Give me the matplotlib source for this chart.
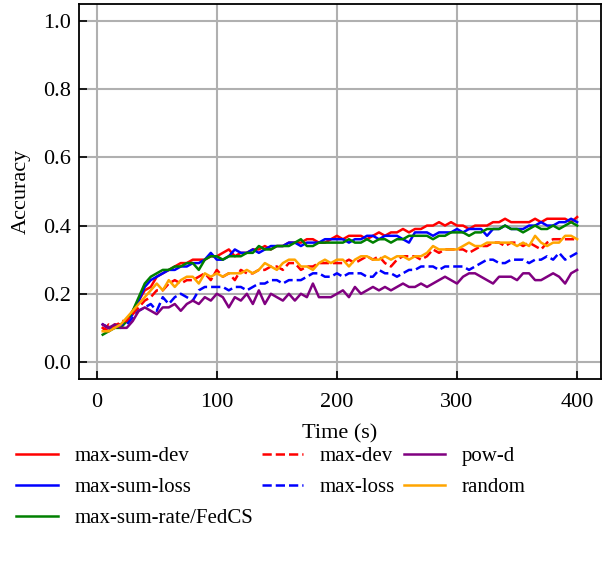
import matplotlib
matplotlib.use("Agg")
import matplotlib.pyplot as plt
import numpy as np

plt.rcParams['font.family'] = ['Liberation Serif', 'DejaVu Serif']
plt.rcParams['font.size'] = 16

# time axis, one point every 5 s
time_s = np.arange(5, 405, 5)

max_sum_dev = [
    0.10, 0.09, 0.11, 0.11, 0.12, 0.15, 0.18, 0.21, 0.22, 0.25,
    0.26, 0.27, 0.28, 0.29, 0.29, 0.30, 0.30, 0.30, 0.31, 0.31,
    0.32, 0.33, 0.31, 0.32, 0.32, 0.33, 0.33, 0.34, 0.33, 0.34,
    0.34, 0.35, 0.35, 0.35, 0.36, 0.36, 0.35, 0.35, 0.36, 0.37,
    0.36, 0.37, 0.37, 0.37, 0.36, 0.37, 0.38, 0.37, 0.38, 0.38,
    0.39, 0.38, 0.39, 0.39, 0.40, 0.40, 0.41, 0.40, 0.41, 0.40,
    0.40, 0.39, 0.40, 0.40, 0.40, 0.41, 0.41, 0.42, 0.41, 0.41,
    0.41, 0.41, 0.42, 0.41, 0.42, 0.42, 0.42, 0.42, 0.41, 0.425,
]
max_sum_loss = [
    0.11, 0.10, 0.10, 0.11, 0.12, 0.14, 0.18, 0.22, 0.24, 0.25,
    0.26, 0.27, 0.27, 0.28, 0.28, 0.29, 0.29, 0.30, 0.32, 0.30,
    0.30, 0.31, 0.33, 0.32, 0.32, 0.33, 0.32, 0.33, 0.34, 0.34,
    0.34, 0.35, 0.35, 0.34, 0.35, 0.35, 0.35, 0.36, 0.36, 0.36,
    0.36, 0.35, 0.36, 0.36, 0.37, 0.37, 0.36, 0.37, 0.37, 0.37,
    0.36, 0.35, 0.38, 0.38, 0.38, 0.37, 0.38, 0.38, 0.38, 0.39,
    0.38, 0.39, 0.39, 0.39, 0.37, 0.39, 0.39, 0.40, 0.39, 0.39,
    0.39, 0.40, 0.40, 0.41, 0.40, 0.40, 0.41, 0.41, 0.42, 0.41,
]
max_sum_rate = [
    0.08, 0.09, 0.10, 0.10, 0.12, 0.15, 0.19, 0.23, 0.25, 0.26,
    0.27, 0.27, 0.28, 0.28, 0.29, 0.29, 0.27, 0.30, 0.31, 0.31,
    0.30, 0.31, 0.31, 0.31, 0.32, 0.32, 0.34, 0.33, 0.33, 0.34,
    0.34, 0.34, 0.35, 0.36, 0.34, 0.34, 0.35, 0.35, 0.35, 0.35,
    0.35, 0.36, 0.35, 0.35, 0.36, 0.35, 0.36, 0.36, 0.35, 0.36,
    0.36, 0.37, 0.37, 0.37, 0.37, 0.36, 0.37, 0.37, 0.38, 0.38,
    0.38, 0.37, 0.38, 0.38, 0.39, 0.39, 0.39, 0.40, 0.39, 0.39,
    0.38, 0.39, 0.40, 0.39, 0.39, 0.40, 0.39, 0.40, 0.41, 0.40,
]
max_dev = [
    0.09, 0.11, 0.10, 0.12, 0.12, 0.14, 0.16, 0.18, 0.19, 0.21,
    0.21, 0.23, 0.24, 0.23, 0.24, 0.24, 0.25, 0.26, 0.24, 0.27,
    0.25, 0.26, 0.24, 0.27, 0.26, 0.26, 0.27, 0.27, 0.28, 0.28,
    0.27, 0.29, 0.29, 0.27, 0.28, 0.28, 0.29, 0.29, 0.29, 0.29,
    0.29, 0.30, 0.29, 0.30, 0.31, 0.30, 0.31, 0.29, 0.28, 0.30,
    0.31, 0.31, 0.31, 0.30, 0.31, 0.33, 0.32, 0.33, 0.33, 0.33,
    0.33, 0.32, 0.33, 0.34, 0.34, 0.35, 0.35, 0.34, 0.35, 0.35,
    0.34, 0.35, 0.34, 0.33, 0.35, 0.36, 0.36, 0.36, 0.36, 0.36,
]
max_loss = [
    0.11, 0.10, 0.10, 0.11, 0.11, 0.13, 0.15, 0.16, 0.17, 0.15,
    0.19, 0.17, 0.19, 0.20, 0.19, 0.18, 0.21, 0.22, 0.22, 0.22,
    0.22, 0.21, 0.22, 0.22, 0.21, 0.22, 0.23, 0.23, 0.24, 0.24,
    0.23, 0.24, 0.24, 0.24, 0.25, 0.26, 0.26, 0.25, 0.25, 0.26,
    0.25, 0.26, 0.26, 0.26, 0.25, 0.25, 0.27, 0.26, 0.26, 0.25,
    0.26, 0.27, 0.27, 0.28, 0.28, 0.28, 0.27, 0.28, 0.28, 0.28,
    0.28, 0.27, 0.28, 0.29, 0.30, 0.30, 0.29, 0.29, 0.30, 0.30,
    0.30, 0.29, 0.30, 0.30, 0.31, 0.30, 0.32, 0.30, 0.31, 0.32,
]
pow_d = [
    0.11, 0.10, 0.11, 0.10, 0.10, 0.12, 0.15, 0.16, 0.15, 0.14,
    0.16, 0.16, 0.17, 0.15, 0.17, 0.18, 0.17, 0.19, 0.18, 0.20,
    0.19, 0.16, 0.19, 0.18, 0.20, 0.17, 0.21, 0.17, 0.20, 0.19,
    0.18, 0.20, 0.18, 0.20, 0.19, 0.23, 0.19, 0.19, 0.19, 0.20,
    0.21, 0.19, 0.22, 0.20, 0.21, 0.22, 0.21, 0.22, 0.21, 0.22,
    0.23, 0.22, 0.22, 0.23, 0.22, 0.23, 0.24, 0.25, 0.24, 0.23,
    0.25, 0.26, 0.26, 0.25, 0.24, 0.23, 0.25, 0.25, 0.25, 0.24,
    0.26, 0.26, 0.24, 0.24, 0.25, 0.26, 0.25, 0.23, 0.26, 0.27,
]
random_sel = [
    0.09, 0.09, 0.10, 0.11, 0.13, 0.15, 0.17, 0.19, 0.21, 0.23,
    0.21, 0.24, 0.22, 0.24, 0.25, 0.25, 0.23, 0.26, 0.25, 0.26,
    0.25, 0.26, 0.26, 0.26, 0.27, 0.26, 0.27, 0.29, 0.28, 0.27,
    0.29, 0.30, 0.30, 0.28, 0.28, 0.27, 0.29, 0.30, 0.29, 0.30,
    0.30, 0.28, 0.30, 0.31, 0.31, 0.30, 0.30, 0.31, 0.30, 0.31,
    0.31, 0.30, 0.31, 0.31, 0.32, 0.34, 0.33, 0.33, 0.33, 0.33,
    0.34, 0.35, 0.34, 0.34, 0.35, 0.35, 0.35, 0.35, 0.35, 0.34,
    0.35, 0.34, 0.37, 0.35, 0.34, 0.35, 0.35, 0.37, 0.37, 0.36,
]

fig = plt.figure(figsize=(6.1, 5.64), dpi=100)
ax = fig.add_axes([0.1295, 0.328, 0.8555, 0.665])

lw = 1.8
ax.plot(time_s, max_sum_dev, color='red', lw=lw, label='max-sum-dev')
ax.plot(time_s, max_sum_loss, color='blue', lw=lw, label='max-sum-loss')
ax.plot(time_s, max_sum_rate, color='green', lw=lw, label='max-sum-rate/FedCS')
ax.plot(time_s, max_dev, color='red', lw=lw, ls='--', label='max-dev')
ax.plot(time_s, max_loss, color='blue', lw=lw, ls='--', label='max-loss')
ax.plot(time_s, pow_d, color='purple', lw=lw, label='pow-d')
ax.plot(time_s, random_sel, color='orange', lw=lw, label='random')

ax.set_ylim(-0.05, 1.05)
ax.set_yticks([0.0, 0.2, 0.4, 0.6, 0.8, 1.0])
ax.set_xticks([0, 100, 200, 300, 400])
ax.grid(True, color='#b0b0b0', lw=1.5)
ax.set_axisbelow(True)
ax.tick_params(direction='in', length=6, width=1.2)
ax.tick_params(axis='x', pad=10)
ax.tick_params(axis='y', pad=6)
for s in ax.spines.values():
    s.set_linewidth(1.3)
ax.set_xlabel('Time (s)', labelpad=9)
ax.set_ylabel('Accuracy', labelpad=9)

fig.legend(loc='upper left', bbox_to_anchor=(-0.004, 0.241), ncol=3, frameon=False,
           fontsize=15, handlelength=2.0, handletextpad=0.8, columnspacing=0.4,
           labelspacing=0.55)

fig.savefig('out.png', dpi=100)
